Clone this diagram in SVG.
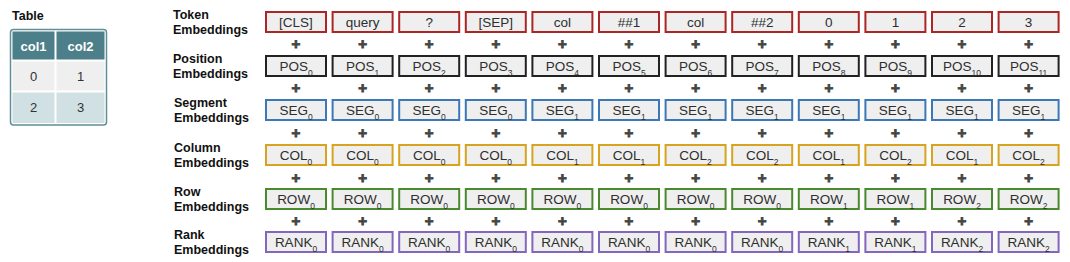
<svg xmlns="http://www.w3.org/2000/svg" width="1070" height="262" viewBox="0 0 1070 262">
<style>
.b{fill:#efefef;stroke-width:2}
.tok{stroke:#ac2626}.pos{stroke:#222}.seg{stroke:#3c78b5}.col{stroke:#d8a31f}.row{stroke:#4a8a2e}.rank{stroke:#8466bd}
.t{font-family:"Liberation Sans",Arial,sans-serif;font-size:13.5px;fill:#2e2e2e;text-anchor:middle}
.s{font-size:8.5px}
.lb{font-family:"Liberation Sans",Arial,sans-serif;font-size:12.5px;font-weight:bold;fill:#111}
.p{font-family:"Liberation Sans",Arial,sans-serif;font-size:15px;font-weight:bold;fill:#444;stroke:#444;stroke-width:0.9;text-anchor:middle}
.th{font-family:"Liberation Sans",Arial,sans-serif;font-size:13px;font-weight:bold;fill:#fff;text-anchor:middle}
.td{font-family:"Liberation Sans",Arial,sans-serif;font-size:13px;fill:#333;text-anchor:middle}
</style>
<rect width="1070" height="262" fill="#fff"/>
<g id="table">
<text class="lb" x="12" y="20">Table</text>
<rect x="10.5" y="29.5" width="96" height="95.5" rx="3" fill="#fff" stroke="#5f8f98" stroke-width="1.5"/>
<rect x="12.5" y="31.5" width="42" height="28" fill="#4d7f8a"/>
<rect x="56.5" y="31.5" width="48" height="28" fill="#4d7f8a"/>
<rect x="12.5" y="61.5" width="42" height="29" fill="#efefef"/>
<rect x="56.5" y="61.5" width="48" height="29" fill="#efefef"/>
<rect x="12.5" y="92.5" width="42" height="30.5" fill="#d0e0e3"/>
<rect x="56.5" y="92.5" width="48" height="30.5" fill="#d0e0e3"/>
<text class="th" x="33.5" y="51">col1</text><text class="th" x="80.5" y="51">col2</text>
<text class="td" x="33.5" y="81">0</text><text class="td" x="80.5" y="81">1</text>
<text class="td" x="33.5" y="112">2</text><text class="td" x="80.5" y="112">3</text>
</g>
<g id="labels">
<text class="lb" x="173" y="19">Token</text><text class="lb" x="173" y="34">Embeddings</text>
<text class="lb" x="173" y="63">Position</text><text class="lb" x="173" y="78">Embeddings</text>
<text class="lb" x="174" y="107">Segment</text><text class="lb" x="174" y="122">Embeddings</text>
<text class="lb" x="174" y="152">Column</text><text class="lb" x="174" y="167">Embeddings</text>
<text class="lb" x="174" y="196">Row</text><text class="lb" x="174" y="211">Embeddings</text>
<text class="lb" x="174" y="239">Rank</text><text class="lb" x="174" y="254">Embeddings</text>
</g>
<g id="token-row">
<g id="tok-0"><rect class="b tok" x="266" y="12" width="60" height="20"/><text class="t" x="296" y="27">[CLS]</text></g>
<g id="tok-1"><rect class="b tok" x="332.6" y="12" width="60" height="20"/><text class="t" x="362.6" y="27">query</text></g>
<g id="tok-2"><rect class="b tok" x="399.2" y="12" width="60" height="20"/><text class="t" x="429.2" y="27">?</text></g>
<g id="tok-3"><rect class="b tok" x="465.8" y="12" width="60" height="20"/><text class="t" x="495.8" y="27">[SEP]</text></g>
<g id="tok-4"><rect class="b tok" x="532.4" y="12" width="60" height="20"/><text class="t" x="562.4" y="27">col</text></g>
<g id="tok-5"><rect class="b tok" x="599" y="12" width="60" height="20"/><text class="t" x="629" y="27">##1</text></g>
<g id="tok-6"><rect class="b tok" x="665.6" y="12" width="60" height="20"/><text class="t" x="695.6" y="27">col</text></g>
<g id="tok-7"><rect class="b tok" x="732.2" y="12" width="60" height="20"/><text class="t" x="762.2" y="27">##2</text></g>
<g id="tok-8"><rect class="b tok" x="798.8" y="12" width="60" height="20"/><text class="t" x="828.8" y="27">0</text></g>
<g id="tok-9"><rect class="b tok" x="865.4" y="12" width="60" height="20"/><text class="t" x="895.4" y="27">1</text></g>
<g id="tok-10"><rect class="b tok" x="932" y="12" width="60" height="20"/><text class="t" x="962" y="27">2</text></g>
<g id="tok-11"><rect class="b tok" x="998.6" y="12" width="60" height="20"/><text class="t" x="1028.6" y="27">3</text></g>
</g>
<g id="position-row">
<g id="pos-0"><rect class="b pos" x="266" y="56" width="60" height="20"/><text class="t" x="296" y="71">POS<tspan class="s" dy="4.5">0</tspan></text></g>
<g id="pos-1"><rect class="b pos" x="332.6" y="56" width="60" height="20"/><text class="t" x="362.6" y="71">POS<tspan class="s" dy="4.5">1</tspan></text></g>
<g id="pos-2"><rect class="b pos" x="399.2" y="56" width="60" height="20"/><text class="t" x="429.2" y="71">POS<tspan class="s" dy="4.5">2</tspan></text></g>
<g id="pos-3"><rect class="b pos" x="465.8" y="56" width="60" height="20"/><text class="t" x="495.8" y="71">POS<tspan class="s" dy="4.5">3</tspan></text></g>
<g id="pos-4"><rect class="b pos" x="532.4" y="56" width="60" height="20"/><text class="t" x="562.4" y="71">POS<tspan class="s" dy="4.5">4</tspan></text></g>
<g id="pos-5"><rect class="b pos" x="599" y="56" width="60" height="20"/><text class="t" x="629" y="71">POS<tspan class="s" dy="4.5">5</tspan></text></g>
<g id="pos-6"><rect class="b pos" x="665.6" y="56" width="60" height="20"/><text class="t" x="695.6" y="71">POS<tspan class="s" dy="4.5">6</tspan></text></g>
<g id="pos-7"><rect class="b pos" x="732.2" y="56" width="60" height="20"/><text class="t" x="762.2" y="71">POS<tspan class="s" dy="4.5">7</tspan></text></g>
<g id="pos-8"><rect class="b pos" x="798.8" y="56" width="60" height="20"/><text class="t" x="828.8" y="71">POS<tspan class="s" dy="4.5">8</tspan></text></g>
<g id="pos-9"><rect class="b pos" x="865.4" y="56" width="60" height="20"/><text class="t" x="895.4" y="71">POS<tspan class="s" dy="4.5">9</tspan></text></g>
<g id="pos-10"><rect class="b pos" x="932" y="56" width="60" height="20"/><text class="t" x="962" y="71">POS<tspan class="s" dy="4.5">10</tspan></text></g>
<g id="pos-11"><rect class="b pos" x="998.6" y="56" width="60" height="20"/><text class="t" x="1028.6" y="71">POS<tspan class="s" dy="4.5">11</tspan></text></g>
</g>
<g id="segment-row">
<g id="seg-0"><rect class="b seg" x="266" y="100" width="60" height="20"/><text class="t" x="296" y="115">SEG<tspan class="s" dy="4.5">0</tspan></text></g>
<g id="seg-1"><rect class="b seg" x="332.6" y="100" width="60" height="20"/><text class="t" x="362.6" y="115">SEG<tspan class="s" dy="4.5">0</tspan></text></g>
<g id="seg-2"><rect class="b seg" x="399.2" y="100" width="60" height="20"/><text class="t" x="429.2" y="115">SEG<tspan class="s" dy="4.5">0</tspan></text></g>
<g id="seg-3"><rect class="b seg" x="465.8" y="100" width="60" height="20"/><text class="t" x="495.8" y="115">SEG<tspan class="s" dy="4.5">0</tspan></text></g>
<g id="seg-4"><rect class="b seg" x="532.4" y="100" width="60" height="20"/><text class="t" x="562.4" y="115">SEG<tspan class="s" dy="4.5">1</tspan></text></g>
<g id="seg-5"><rect class="b seg" x="599" y="100" width="60" height="20"/><text class="t" x="629" y="115">SEG<tspan class="s" dy="4.5">1</tspan></text></g>
<g id="seg-6"><rect class="b seg" x="665.6" y="100" width="60" height="20"/><text class="t" x="695.6" y="115">SEG<tspan class="s" dy="4.5">1</tspan></text></g>
<g id="seg-7"><rect class="b seg" x="732.2" y="100" width="60" height="20"/><text class="t" x="762.2" y="115">SEG<tspan class="s" dy="4.5">1</tspan></text></g>
<g id="seg-8"><rect class="b seg" x="798.8" y="100" width="60" height="20"/><text class="t" x="828.8" y="115">SEG<tspan class="s" dy="4.5">1</tspan></text></g>
<g id="seg-9"><rect class="b seg" x="865.4" y="100" width="60" height="20"/><text class="t" x="895.4" y="115">SEG<tspan class="s" dy="4.5">1</tspan></text></g>
<g id="seg-10"><rect class="b seg" x="932" y="100" width="60" height="20"/><text class="t" x="962" y="115">SEG<tspan class="s" dy="4.5">1</tspan></text></g>
<g id="seg-11"><rect class="b seg" x="998.6" y="100" width="60" height="20"/><text class="t" x="1028.6" y="115">SEG<tspan class="s" dy="4.5">1</tspan></text></g>
</g>
<g id="column-row">
<g id="col-0"><rect class="b col" x="266" y="145" width="60" height="20"/><text class="t" x="296" y="160">COL<tspan class="s" dy="4.5">0</tspan></text></g>
<g id="col-1"><rect class="b col" x="332.6" y="145" width="60" height="20"/><text class="t" x="362.6" y="160">COL<tspan class="s" dy="4.5">0</tspan></text></g>
<g id="col-2"><rect class="b col" x="399.2" y="145" width="60" height="20"/><text class="t" x="429.2" y="160">COL<tspan class="s" dy="4.5">0</tspan></text></g>
<g id="col-3"><rect class="b col" x="465.8" y="145" width="60" height="20"/><text class="t" x="495.8" y="160">COL<tspan class="s" dy="4.5">0</tspan></text></g>
<g id="col-4"><rect class="b col" x="532.4" y="145" width="60" height="20"/><text class="t" x="562.4" y="160">COL<tspan class="s" dy="4.5">1</tspan></text></g>
<g id="col-5"><rect class="b col" x="599" y="145" width="60" height="20"/><text class="t" x="629" y="160">COL<tspan class="s" dy="4.5">1</tspan></text></g>
<g id="col-6"><rect class="b col" x="665.6" y="145" width="60" height="20"/><text class="t" x="695.6" y="160">COL<tspan class="s" dy="4.5">2</tspan></text></g>
<g id="col-7"><rect class="b col" x="732.2" y="145" width="60" height="20"/><text class="t" x="762.2" y="160">COL<tspan class="s" dy="4.5">2</tspan></text></g>
<g id="col-8"><rect class="b col" x="798.8" y="145" width="60" height="20"/><text class="t" x="828.8" y="160">COL<tspan class="s" dy="4.5">1</tspan></text></g>
<g id="col-9"><rect class="b col" x="865.4" y="145" width="60" height="20"/><text class="t" x="895.4" y="160">COL<tspan class="s" dy="4.5">2</tspan></text></g>
<g id="col-10"><rect class="b col" x="932" y="145" width="60" height="20"/><text class="t" x="962" y="160">COL<tspan class="s" dy="4.5">1</tspan></text></g>
<g id="col-11"><rect class="b col" x="998.6" y="145" width="60" height="20"/><text class="t" x="1028.6" y="160">COL<tspan class="s" dy="4.5">2</tspan></text></g>
</g>
<g id="row-row">
<g id="row-0"><rect class="b row" x="266" y="189" width="60" height="20"/><text class="t" x="296" y="204">ROW<tspan class="s" dy="4.5">0</tspan></text></g>
<g id="row-1"><rect class="b row" x="332.6" y="189" width="60" height="20"/><text class="t" x="362.6" y="204">ROW<tspan class="s" dy="4.5">0</tspan></text></g>
<g id="row-2"><rect class="b row" x="399.2" y="189" width="60" height="20"/><text class="t" x="429.2" y="204">ROW<tspan class="s" dy="4.5">0</tspan></text></g>
<g id="row-3"><rect class="b row" x="465.8" y="189" width="60" height="20"/><text class="t" x="495.8" y="204">ROW<tspan class="s" dy="4.5">0</tspan></text></g>
<g id="row-4"><rect class="b row" x="532.4" y="189" width="60" height="20"/><text class="t" x="562.4" y="204">ROW<tspan class="s" dy="4.5">0</tspan></text></g>
<g id="row-5"><rect class="b row" x="599" y="189" width="60" height="20"/><text class="t" x="629" y="204">ROW<tspan class="s" dy="4.5">0</tspan></text></g>
<g id="row-6"><rect class="b row" x="665.6" y="189" width="60" height="20"/><text class="t" x="695.6" y="204">ROW<tspan class="s" dy="4.5">0</tspan></text></g>
<g id="row-7"><rect class="b row" x="732.2" y="189" width="60" height="20"/><text class="t" x="762.2" y="204">ROW<tspan class="s" dy="4.5">0</tspan></text></g>
<g id="row-8"><rect class="b row" x="798.8" y="189" width="60" height="20"/><text class="t" x="828.8" y="204">ROW<tspan class="s" dy="4.5">1</tspan></text></g>
<g id="row-9"><rect class="b row" x="865.4" y="189" width="60" height="20"/><text class="t" x="895.4" y="204">ROW<tspan class="s" dy="4.5">1</tspan></text></g>
<g id="row-10"><rect class="b row" x="932" y="189" width="60" height="20"/><text class="t" x="962" y="204">ROW<tspan class="s" dy="4.5">2</tspan></text></g>
<g id="row-11"><rect class="b row" x="998.6" y="189" width="60" height="20"/><text class="t" x="1028.6" y="204">ROW<tspan class="s" dy="4.5">2</tspan></text></g>
</g>
<g id="rank-row">
<g id="rank-0"><rect class="b rank" x="266" y="232" width="60" height="20"/><text class="t" x="296" y="247">RANK<tspan class="s" dy="4.5">0</tspan></text></g>
<g id="rank-1"><rect class="b rank" x="332.6" y="232" width="60" height="20"/><text class="t" x="362.6" y="247">RANK<tspan class="s" dy="4.5">0</tspan></text></g>
<g id="rank-2"><rect class="b rank" x="399.2" y="232" width="60" height="20"/><text class="t" x="429.2" y="247">RANK<tspan class="s" dy="4.5">0</tspan></text></g>
<g id="rank-3"><rect class="b rank" x="465.8" y="232" width="60" height="20"/><text class="t" x="495.8" y="247">RANK<tspan class="s" dy="4.5">0</tspan></text></g>
<g id="rank-4"><rect class="b rank" x="532.4" y="232" width="60" height="20"/><text class="t" x="562.4" y="247">RANK<tspan class="s" dy="4.5">0</tspan></text></g>
<g id="rank-5"><rect class="b rank" x="599" y="232" width="60" height="20"/><text class="t" x="629" y="247">RANK<tspan class="s" dy="4.5">0</tspan></text></g>
<g id="rank-6"><rect class="b rank" x="665.6" y="232" width="60" height="20"/><text class="t" x="695.6" y="247">RANK<tspan class="s" dy="4.5">0</tspan></text></g>
<g id="rank-7"><rect class="b rank" x="732.2" y="232" width="60" height="20"/><text class="t" x="762.2" y="247">RANK<tspan class="s" dy="4.5">0</tspan></text></g>
<g id="rank-8"><rect class="b rank" x="798.8" y="232" width="60" height="20"/><text class="t" x="828.8" y="247">RANK<tspan class="s" dy="4.5">1</tspan></text></g>
<g id="rank-9"><rect class="b rank" x="865.4" y="232" width="60" height="20"/><text class="t" x="895.4" y="247">RANK<tspan class="s" dy="4.5">1</tspan></text></g>
<g id="rank-10"><rect class="b rank" x="932" y="232" width="60" height="20"/><text class="t" x="962" y="247">RANK<tspan class="s" dy="4.5">2</tspan></text></g>
<g id="rank-11"><rect class="b rank" x="998.6" y="232" width="60" height="20"/><text class="t" x="1028.6" y="247">RANK<tspan class="s" dy="4.5">2</tspan></text></g>
</g>
<g id="connectors">
<g id="plus-1"><text class="p" x="296" y="48.5">+</text><text class="p" x="362.6" y="48.5">+</text><text class="p" x="429.2" y="48.5">+</text><text class="p" x="495.8" y="48.5">+</text><text class="p" x="562.4" y="48.5">+</text><text class="p" x="629" y="48.5">+</text><text class="p" x="695.6" y="48.5">+</text><text class="p" x="762.2" y="48.5">+</text><text class="p" x="828.8" y="48.5">+</text><text class="p" x="895.4" y="48.5">+</text><text class="p" x="962" y="48.5">+</text><text class="p" x="1028.6" y="48.5">+</text></g>
<g id="plus-2"><text class="p" x="296" y="93">+</text><text class="p" x="362.6" y="93">+</text><text class="p" x="429.2" y="93">+</text><text class="p" x="495.8" y="93">+</text><text class="p" x="562.4" y="93">+</text><text class="p" x="629" y="93">+</text><text class="p" x="695.6" y="93">+</text><text class="p" x="762.2" y="93">+</text><text class="p" x="828.8" y="93">+</text><text class="p" x="895.4" y="93">+</text><text class="p" x="962" y="93">+</text><text class="p" x="1028.6" y="93">+</text></g>
<g id="plus-3"><text class="p" x="296" y="138">+</text><text class="p" x="362.6" y="138">+</text><text class="p" x="429.2" y="138">+</text><text class="p" x="495.8" y="138">+</text><text class="p" x="562.4" y="138">+</text><text class="p" x="629" y="138">+</text><text class="p" x="695.6" y="138">+</text><text class="p" x="762.2" y="138">+</text><text class="p" x="828.8" y="138">+</text><text class="p" x="895.4" y="138">+</text><text class="p" x="962" y="138">+</text><text class="p" x="1028.6" y="138">+</text></g>
<g id="plus-4"><text class="p" x="296" y="182.5">+</text><text class="p" x="362.6" y="182.5">+</text><text class="p" x="429.2" y="182.5">+</text><text class="p" x="495.8" y="182.5">+</text><text class="p" x="562.4" y="182.5">+</text><text class="p" x="629" y="182.5">+</text><text class="p" x="695.6" y="182.5">+</text><text class="p" x="762.2" y="182.5">+</text><text class="p" x="828.8" y="182.5">+</text><text class="p" x="895.4" y="182.5">+</text><text class="p" x="962" y="182.5">+</text><text class="p" x="1028.6" y="182.5">+</text></g>
<g id="plus-5"><text class="p" x="296" y="226">+</text><text class="p" x="362.6" y="226">+</text><text class="p" x="429.2" y="226">+</text><text class="p" x="495.8" y="226">+</text><text class="p" x="562.4" y="226">+</text><text class="p" x="629" y="226">+</text><text class="p" x="695.6" y="226">+</text><text class="p" x="762.2" y="226">+</text><text class="p" x="828.8" y="226">+</text><text class="p" x="895.4" y="226">+</text><text class="p" x="962" y="226">+</text><text class="p" x="1028.6" y="226">+</text></g>
</g>
</svg>
